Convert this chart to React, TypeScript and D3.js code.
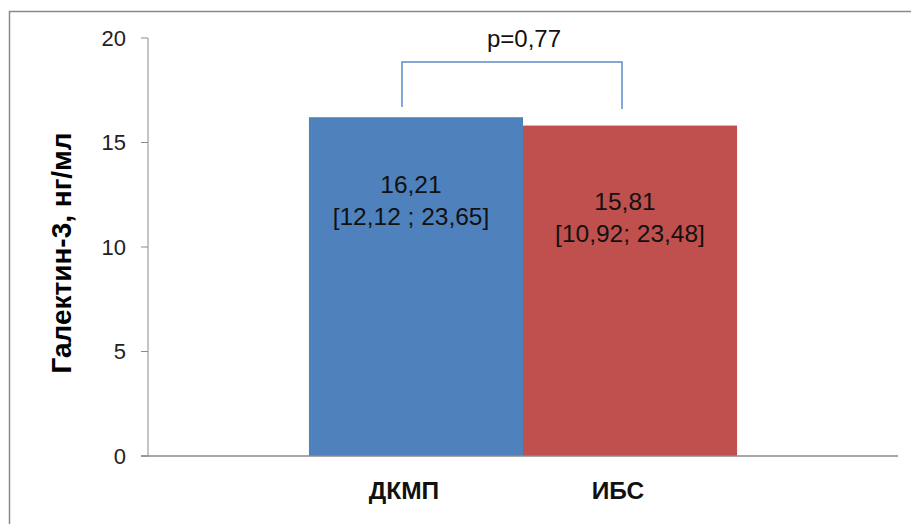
import React from "react";
import * as d3 from "d3";

// Median galectin-3 level by group, with interquartile range labels
const groups = ["ДКМП", "ИБС"];
const medians = [16.21, 15.81];
const rangeLabels = ["[12,12 ; 23,65]", "[10,92; 23,48]"];
const barColors = ["#4F81BD", "#C0504D"];
const yTicks = [0, 5, 10, 15, 20];
const pValueLabel = "p=0,77";
const yTitle = "Галектин-3, нг/мл";

const W = 911;
const H = 524;
const plot = { left: 148, right: 898, top: 38, bottom: 456 };
const FONT = "'Liberation Sans', Arial, sans-serif";

export default function App() {
  const y = d3.scaleLinear().domain([0, 20]).range([plot.bottom, plot.top]);

  // one cluster holding both series
  const outer = d3
    .scaleBand<string>()
    .domain(["all"])
    .range([plot.left, plot.right])
    .paddingInner(0)
    .paddingOuter(0.376);
  const inner = d3
    .scaleBand<string>()
    .domain(groups)
    .range([0, outer.bandwidth()])
    .padding(0);

  const x0 = outer("all") ?? 0;
  const barX = (g: string) => x0 + (inner(g) ?? 0);
  const barC = (g: string) => barX(g) + inner.bandwidth() / 2;

  const labelDy = [76, 84];

  const bLeft = barC(groups[0]) - 14;
  const bRight = barC(groups[1]) - 8;
  const bTop = y(18.85);
  const bBotL = y(16.7);
  const bBotR = y(16.6);

  return (
    <svg
      width={W}
      height={H}
      style={{ position: "fixed", left: 0, top: 0, background: "#fff" }}
      fontFamily={FONT}
    >
      <rect x={9.5} y={11.5} width={W} height={H} fill="#fff" stroke="#8a8a8a" strokeWidth={1.5} />

      {/* bars */}
      {groups.map((g, i) => (
        <rect
          key={g}
          x={barX(g)}
          y={y(medians[i])}
          width={inner.bandwidth()}
          height={y(0) - y(medians[i])}
          fill={barColors[i]}
        />
      ))}

      {/* y axis */}
      <line x1={plot.left} x2={plot.left} y1={y(20)} y2={y(0)} stroke="#8a8a8a" strokeWidth={1} />
      {yTicks.map((t) => (
        <g key={t}>
          <line x1={plot.left - 7} x2={plot.left} y1={y(t)} y2={y(t)} stroke="#8a8a8a" strokeWidth={1} />
          <text
            x={plot.left - 22}
            y={y(t)}
            dy="0.36em"
            textAnchor="end"
            fontSize={22}
            fill="#222"
          >
            {t}
          </text>
        </g>
      ))}
      {/* x axis */}
      <line x1={plot.left - 7} x2={plot.right} y1={y(0)} y2={y(0)} stroke="#8a8a8a" strokeWidth={1.5} />

      {/* value labels */}
      {groups.map((g, i) => (
        <text
          key={g}
          x={barC(g)}
          y={y(medians[i]) + labelDy[i]}
          textAnchor="middle"
          fontSize={24.5}
          fill="#111"
        >
          <tspan x={barC(g) - 5}>{d3.format(".2f")(medians[i]).replace(".", ",")}</tspan>
          <tspan x={barC(g) - 5 + i * 5} dy={32}>
            {rangeLabels[i]}
          </tspan>
        </text>
      ))}

      {/* category labels */}
      {groups.map((g) => (
        <text
          key={g}
          x={barC(g) - 12}
          y={y(0) + 43}
          textAnchor="middle"
          fontSize={24.5}
          fontWeight="bold"
          fill="#111"
        >
          {g}
        </text>
      ))}

      {/* significance bracket */}
      <path
        d={`M${bLeft},${bBotL}V${bTop}H${bRight}V${bBotR}`}
        fill="none"
        stroke="#5B8CCB"
        strokeWidth={1.5}
      />
      <text x={(bLeft + bRight) / 2 + 12} y={bTop - 15} textAnchor="middle" fontSize={24} fill="#111">
        {pValueLabel}
      </text>

      {/* y axis title */}
      <text
        transform={`translate(71,253) rotate(-90)`}
        textAnchor="middle"
        fontSize={28}
        fontWeight="bold"
        fill="#000"
      >
        {yTitle}
      </text>
    </svg>
  );
}
